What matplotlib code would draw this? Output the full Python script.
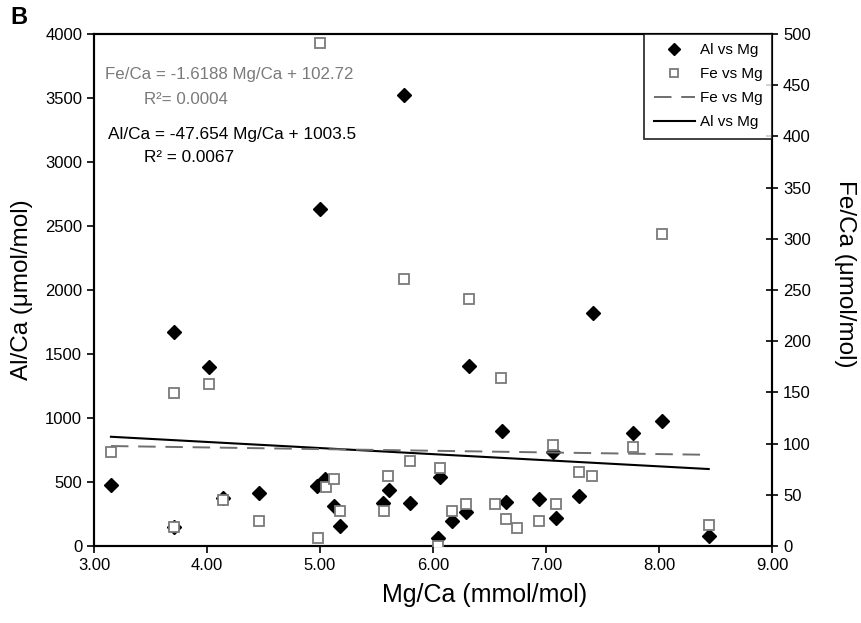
import matplotlib
matplotlib.use("Agg")
import matplotlib.pyplot as plt
import numpy as np

plt.rcParams['font.family'] = ['Liberation Sans', 'DejaVu Sans']

# Al/Ca vs Mg/Ca (left axis)
al_mg = [3.15, 3.71, 3.71, 4.02, 4.14, 4.46, 4.97, 5.00, 5.04, 5.12, 5.18, 5.56, 5.61,
         5.74, 5.80, 6.04, 6.06, 6.17, 6.29, 6.32, 6.61, 6.65, 6.94, 7.06, 7.09, 7.29,
         7.42, 7.77, 8.03, 8.44]
al_ca = [477, 1670, 150, 1401, 373, 417, 469, 2630, 521, 312, 156, 338, 437,
         3523, 333, 60, 537, 195, 268, 1409, 901, 346, 365, 737, 221, 391,
         1823, 885, 979, 80]

# Fe/Ca vs Mg/Ca (right axis)
fe_mg = [3.15, 3.71, 3.71, 4.02, 4.14, 4.46, 4.98, 5.00, 5.05, 5.12, 5.18, 5.57, 5.60,
         5.74, 5.80, 6.04, 6.06, 6.17, 6.29, 6.32, 6.55, 6.60, 6.65, 6.74, 6.94, 7.06,
         7.09, 7.29, 7.41, 7.77, 8.03, 8.44]
fe_ca = [91.5, 149.7, 18.2, 158.2, 44.9, 24.4, 8.1, 491.5, 57.9, 65.4, 34.5, 34.5, 68.4,
         260.4, 83.3, 0, 75.8, 34.5, 41, 241.5, 40.7, 163.7, 26.4, 17.9, 24.7, 98.6,
         41, 72, 68.7, 96.4, 304.7, 20.5]

# Printed regression equations
al_slope, al_icpt = -47.654, 1003.5
fe_slope, fe_icpt = -1.6188, 102.72

x_ticks = [3, 4, 5, 6, 7, 8, 9]
left_ticks = list(range(0, 4001, 500))
right_ticks = list(range(0, 501, 50))

W, H = 861, 623
fig = plt.figure(figsize=(W/100, H/100), dpi=100)
ax = fig.add_axes([94/W, 1-546/H, (772-94)/W, (546-34)/H])
ax2 = ax.twinx()

fitx = np.array([min(al_mg), max(al_mg)])
l_fe, = ax2.plot(fitx, fe_slope*fitx + fe_icpt, color='#6e6e6e', lw=1.4,
                 dashes=(9, 5), label='Fe vs Mg')
l_al, = ax.plot(fitx, al_slope*fitx + al_icpt, color='black', lw=1.5, label='Al vs Mg')

p_fe, = ax2.plot(fe_mg, fe_ca, linestyle='none', marker='s', ms=7.5,
                 mfc='white', mec='#7a7a7a', mew=1.3, label='Fe vs Mg', zorder=3)
p_al, = ax.plot(al_mg, al_ca, linestyle='none', marker='D', ms=7.5,
                color='black', label='Al vs Mg', zorder=2)

ax.set_xlim(3, 9)
ax.set_ylim(0, 4000)
ax2.set_ylim(0, 500)
ax.set_xticks(x_ticks)
ax.set_xticklabels([f"{v:.2f}" for v in x_ticks])
ax.set_yticks(left_ticks)
ax2.set_yticks(right_ticks)

for a in (ax, ax2):
    for s in a.spines.values():
        s.set_linewidth(1.5)
ax.tick_params(axis='both', direction='out', length=5, width=1.2, labelsize=12)
ax2.tick_params(axis='y', direction='inout', length=9, width=1.2, labelsize=12)

fig.text(485/W, 1-595/H, 'Mg/Ca (mmol/mol)', fontsize=18, ha='center', va='center')
fig.text(22/W, 1-290/H, 'Al/Ca (μmol/mol)', fontsize=17.5, ha='center', va='center',
         rotation=90)
fig.text(845/W, 1-274/H, 'Fe/Ca (μmol/mol)', fontsize=17.5, ha='center', va='center',
         rotation=270)

leg = ax2.legend([p_al, p_fe, l_fe, l_al], ['Al vs Mg', 'Fe vs Mg', 'Fe vs Mg', 'Al vs Mg'],
                 loc='upper right', bbox_to_anchor=(1.0, 1.0), fontsize=11,
                 frameon=True, fancybox=False, borderaxespad=0, handlelength=2.7,
                 handletextpad=0.35, labelspacing=0.66, borderpad=0.6,
                 markerscale=0.85)
leg.get_frame().set_edgecolor('black')
leg.get_frame().set_linewidth(1.3)

fig.text(105/W, 1-75/H, 'Fe/Ca = -1.6188 Mg/Ca + 102.72', color='#7a7a7a',
         fontsize=12.2, va='center', ha='left')
fig.text(144/W, 1-100/H, 'R²= 0.0004', color='#7a7a7a', fontsize=12.2,
         va='center', ha='left')
fig.text(108/W, 1-134/H, 'Al/Ca = -47.654 Mg/Ca + 1003.5', color='black',
         fontsize=12.4, va='center', ha='left')
fig.text(144/W, 1-157/H, 'R² = 0.0067', color='black', fontsize=12.4,
         va='center', ha='left')

fig.text(10/W, 1-18/H, 'B', fontsize=17, fontweight='bold', va='center', ha='left')

fig.savefig('out.png', dpi=100)
